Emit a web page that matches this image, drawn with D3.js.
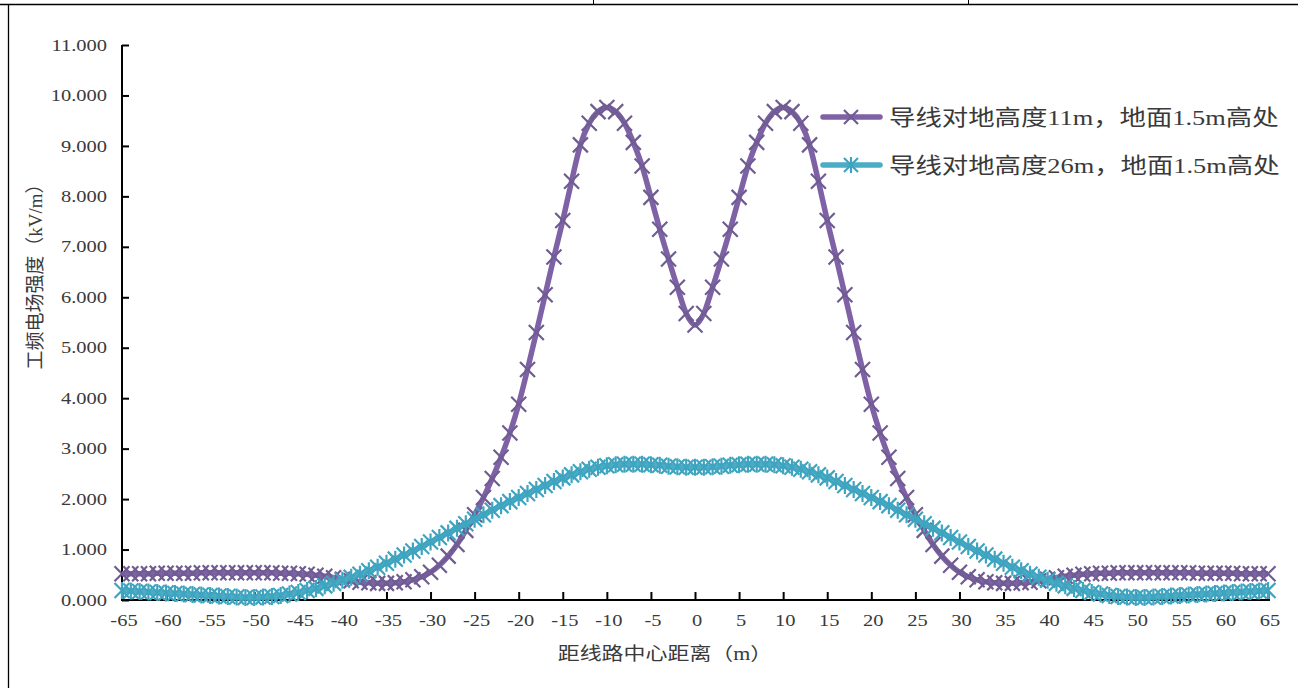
<!DOCTYPE html>
<html><head><meta charset="utf-8">
<script src="https://cdn.jsdelivr.net/npm/d3@7/dist/d3.min.js"></script>
<style>html,body{margin:0;padding:0;background:#fff;}svg{display:block;}</style>
</head><body><svg id="c" width="1298" height="688"></svg>
<script>
// Distance from line centre (m)
const distances = [-65,-64,-63,-62,-61,-60,-59,-58,-57,-56,-55,-54,-53,-52,-51,-50,-49,-48,-47,-46,-45,-44,-43,-42,-41,-40,-39,-38,-37,-36,-35,-34,-33,-32,-31,-30,-29,-28,-27,-26,-25,-24,-23,-22,-21,-20,-19,-18,-17,-16,-15,-14,-13,-12,-11,-10,-9,-8,-7,-6,-5,-4,-3,-2,-1,0,1,2,3,4,5,6,7,8,9,10,11,12,13,14,15,16,17,18,19,20,21,22,23,24,25,26,27,28,29,30,31,32,33,34,35,36,37,38,39,40,41,42,43,44,45,46,47,48,49,50,51,52,53,54,55,56,57,58,59,60,61,62,63,64,65];
// Conductor height 11 m, 1.5 m above ground (kV/m)
const field11 = [0.52,0.52,0.52,0.52,0.53,0.53,0.53,0.53,0.53,0.54,0.54,0.54,0.54,0.54,0.54,0.54,0.54,0.54,0.53,0.53,
0.52,0.51,0.49,0.47,0.44,
0.41,0.38,0.35,0.34,0.33,0.33,0.34,0.36,0.40,0.46,
0.55,0.69,0.87,1.10,1.38,1.69,2.03,2.41,2.83,3.31,
3.88,4.57,5.30,6.05,6.80,7.52,8.30,9.02,9.45,9.68,
9.76,9.68,9.45,9.07,8.60,7.98,7.35,6.76,6.20,5.68,
5.45,
5.68,6.20,6.76,7.35,7.98,8.60,9.07,9.45,9.68,9.76,
9.68,9.45,9.02,8.30,7.52,6.80,6.05,5.30,4.57,3.88,
3.31,2.83,2.41,2.03,1.69,1.38,1.10,0.87,0.69,0.55,
0.46,0.40,0.36,0.34,0.33,0.33,0.34,0.35,0.38,0.41,
0.44,0.47,0.49,0.51,0.52,
0.53,0.53,0.54,0.54,0.54,0.54,0.54,0.54,0.54,0.54,0.54,0.53,0.53,0.53,0.53,0.53,0.52,0.52,0.52,0.52];
// Conductor height 26 m, 1.5 m above ground (kV/m)
const field26 = [0.19,0.18,0.17,0.16,0.15,0.14,
0.13,0.12,0.11,0.10,0.09,0.08,0.07,0.06,0.05,0.05,
0.06,0.07,0.09,0.12,0.15,0.19,0.23,0.28,0.33,0.39,
0.45,0.51,0.58,0.65,0.73,0.81,0.89,0.97,1.06,1.15,
1.24,1.33,1.42,1.51,1.60,1.69,1.78,1.87,1.95,2.03,
2.11,2.19,2.27,2.35,2.42,2.48,2.54,2.59,2.63,2.66,
2.68,2.69,2.69,2.69,2.68,2.67,2.65,2.64,2.63,
2.63,
2.63,2.64,2.65,2.67,2.68,2.69,2.69,2.69,2.68,
2.66,2.63,2.59,2.54,2.48,2.42,2.35,2.27,2.19,2.11,
2.03,1.95,1.87,1.78,1.69,1.60,1.51,1.42,1.33,1.24,
1.15,1.06,0.97,0.89,0.81,0.73,0.65,0.58,0.51,0.45,
0.39,0.33,0.28,0.23,0.19,0.15,0.12,0.09,0.07,0.06,
0.05,0.05,0.06,0.07,0.08,0.09,0.10,0.11,0.12,0.13,
0.14,0.15,0.16,0.17,0.18,0.19];
const seriesNames = ["导线对地高度11m，地面1.5m高处", "导线对地高度26m，地面1.5m高处"];
const xTicks = [-65,-60,-55,-50,-45,-40,-35,-30,-25,-20,-15,-10,-5,0,5,10,15,20,25,30,35,40,45,50,55,60,65];
const yTicks = [0,1,2,3,4,5,6,7,8,9,10,11];
const xTitle = "距线路中心距离（m）";
const yTitle = "工频电场强度（kV/m）";

const svg = d3.select("#c");
const serif = "'Liberation Serif','Times New Roman',serif";
const cjk = "'Liberation Serif','Noto Sans CJK SC',sans-serif";
const txt = "#3a3a3a";

// page borders
svg.append("line").attr("x1",0).attr("x2",1298).attr("y1",4.5).attr("y2",4.5).attr("stroke","#000").attr("stroke-width",1.3);
[593,968].forEach(x=>svg.append("line").attr("x1",x+0.5).attr("x2",x+0.5).attr("y1",0).attr("y2",4).attr("stroke","#000"));
svg.append("line").attr("x1",8.5).attr("x2",8.5).attr("y1",4).attr("y2",688).attr("stroke","#000").attr("stroke-width",1.3);

const x = d3.scaleLinear().domain([-65,65]).range([122,1268]);
const y = d3.scaleLinear().domain([0,11]).range([600,45]);

// axes
const yAxis = svg.append("g").attr("transform","translate(122,0)")
  .call(d3.axisRight(y).tickValues(yTicks).tickSize(7).tickFormat(""));
yAxis.select(".domain").attr("d","M0,45V600").attr("stroke","#000").attr("stroke-width",2);
yAxis.selectAll(".tick line").attr("stroke","#000").attr("stroke-width",2);
const xAxis = svg.append("g").attr("transform","translate(0,600)")
  .call(d3.axisTop(x).tickValues(xTicks).tickSize(8).tickFormat(""));
xAxis.select(".domain").attr("d","M121,0H1270").attr("stroke","#000").attr("stroke-width",2);
xAxis.selectAll(".tick line").attr("stroke","#000").attr("stroke-width",2);

svg.append("g").selectAll("text").data(yTicks).join("text")
  .attr("transform",d=>`translate(107,${y(d)}) scale(1.28,1)`).attr("dy","0.35em").attr("text-anchor","end")
  .attr("font-family",serif).attr("font-size",16).attr("fill",txt).text(d=>d3.format(".3f")(d));
svg.append("g").selectAll("text").data(xTicks).join("text")
  .attr("transform",d=>`translate(${x(d)+2},620) scale(1.28,1)`).attr("dy","0.35em").attr("text-anchor","middle")
  .attr("font-family",serif).attr("font-size",16).attr("fill",txt).text(d=>d);

svg.append("text").attr("transform","translate(665,654) scale(1.22,1)").attr("dy","0.35em").attr("text-anchor","middle")
  .attr("font-family",cjk).attr("font-size",18).attr("fill",txt).text(xTitle);
svg.append("text").attr("transform","translate(35,272) rotate(-90)").attr("dy","0.35em").attr("text-anchor","middle")
  .attr("font-family",cjk).attr("font-size",19).attr("fill",txt)
  .attr("textLength",195).attr("lengthAdjust","spacingAndGlyphs").text(yTitle);

const colors = ["#7F62A6","#4BACC6"];
const mColors = ["#6F5C92","#3FA4BF"];
const line = d3.line().x(d=>x(d[0])).y(d=>y(d[1])).curve(d3.curveMonotoneX);

function xMarker(g, cx, cy, s, col){
  g.append("path").attr("d",`M${cx-s},${cy-s}L${cx+s},${cy+s}M${cx-s},${cy+s}L${cx+s},${cy-s}`)
   .attr("stroke",col).attr("stroke-width",2.2).attr("fill","none");
}
function starMarker(g, cx, cy, s, col){
  g.append("path").attr("d",`M${cx-s},${cy-s}L${cx+s},${cy+s}M${cx-s},${cy+s}L${cx+s},${cy-s}M${cx},${cy-s-1}L${cx},${cy+s+1}`)
   .attr("stroke",col).attr("stroke-width",2.2).attr("fill","none");
}
const allSeries = [field11, field26];
allSeries.forEach((vals,i)=>{
  const pts = distances.map((d,j)=>[d,vals[j]]);
  const g = svg.append("g");
  g.append("path").datum(pts).attr("d",line).attr("fill","none").attr("stroke",colors[i]).attr("stroke-width",5.5).attr("stroke-linejoin","round");
  pts.forEach(p=>{
    if(i===0) xMarker(g, x(p[0]), y(p[1]), 7.5, mColors[i]);
    else starMarker(g, x(p[0]), y(p[1]), 7.5, mColors[i]);
  });
});

// legend
const legY = [117,165];
seriesNames.forEach((n,i)=>{
  const g = svg.append("g");
  g.append("line").attr("x1",823).attr("x2",880).attr("y1",legY[i]).attr("y2",legY[i]).attr("stroke",colors[i]).attr("stroke-width",5.5).attr("stroke-linecap","round");
  if(i===0) xMarker(g,851,legY[i],7,mColors[i]); else starMarker(g,851,legY[i],7,mColors[i]);
  g.append("text").attr("transform",`translate(889,${legY[i]}) scale(1.2,1)`).attr("dy","0.35em").attr("font-family",cjk).attr("font-size",22).attr("fill",txt).text(n);
});
</script></body></html>
